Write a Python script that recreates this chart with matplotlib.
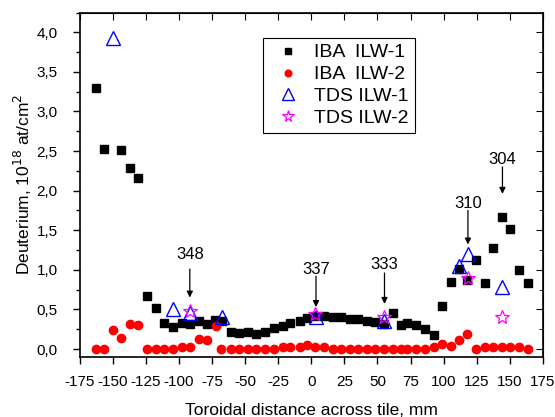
import matplotlib
matplotlib.use("Agg")
import matplotlib.pyplot as plt
from matplotlib.ticker import FuncFormatter, MultipleLocator

plt.rcParams['font.family'] = ['Liberation Sans', 'DejaVu Sans']
plt.rcParams['axes.unicode_minus'] = False

iba1_x = [-163.1, -157, -144.2, -137.1, -131, -124, -117.7, -111.1, -104.8, -98, -91.9, -84.8,
          -78.8, -72.5, -67.2, -60.9, -54.5, -48, -41.7, -34.8, -28.6, -21.7, -15.9, -8.9, -3.0,
          3, 9.3, 16.4, 22.4, 29, 35.3, 42.2, 48.5, 55.3, 61.4, 67.9, 72.4, 79.5, 85.6, 92.4,
          98.5, 105.5, 111.6, 117.9, 124.5, 131.3, 137.4, 144.5, 150.2, 157.3, 163.6]
iba1_y = [3.30, 2.53, 2.51, 2.29, 2.16, 0.67, 0.52, 0.33, 0.28, 0.33, 0.32, 0.35,
          0.32, 0.37, 0.35, 0.22, 0.20, 0.22, 0.19, 0.22, 0.26, 0.29, 0.33, 0.36, 0.39,
          0.42, 0.42, 0.40, 0.40, 0.38, 0.38, 0.35, 0.34, 0.32, 0.46, 0.30, 0.33, 0.30, 0.25, 0.18,
          0.54, 0.85, 1.01, 0.87, 1.13, 0.83, 1.28, 1.67, 1.52, 1.00, 0.84]

iba2_x = [-163.1, -157, -150, -143.9, -137.1, -130.8, -124, -117.7, -111.1, -104.8, -98, -91.9,
          -84.8, -78.8, -72.2, -68, -60.9, -54.5, -48, -41.7, -34.8, -28.6, -21.7, -15.9, -8.9, -3.0,
          3, 9.3, 16.4, 22.4, 29, 35.3, 42.2, 48.5, 55.3, 61.4, 67.9, 72.4, 79.5, 85.6, 92.4,
          98.5, 105.5, 111.6, 117.9, 124.5, 131.3, 137.4, 144.5, 150.2, 157.3, 163.6]
iba2_y = [0.0, 0.0, 0.24, 0.14, 0.32, 0.30, 0.0, 0.0, 0.0, 0.0, 0.03, 0.03,
          0.13, 0.12, 0.29, 0.0, 0.0, 0.0, 0.0, 0.0, 0.0, 0.0, 0.03, 0.02, 0.03, 0.05,
          0.02, 0.02, 0.0, 0.0, 0.0, 0.0, 0.0, 0.0, 0.0, 0.0, 0.0, 0.0, 0.0, 0.0, 0.03,
          0.06, 0.04, 0.11, 0.19, 0.0, 0.02, 0.02, 0.02, 0.02, 0.03, 0.0]

tds1_x = [-149.8, -104.8, -91.9, -67.7, 3.8, 55.3, 111.6, 118.4, 144.5]
tds1_y = [3.93, 0.51, 0.46, 0.40, 0.41, 0.36, 1.05, 1.20, 0.78]

tds2_x = [-91.9, 3, 55.3, 118.4, 144.5]
tds2_y = [0.48, 0.44, 0.40, 0.90, 0.41]

ann_labels = ['348', '337', '333', '310', '304']
ann_x = [-91.9, 3.5, 55.3, 118.4, 144.5]
ann_tip = [0.65, 0.53, 0.57, 1.32, 1.96]
ann_tail = [1.01, 0.92, 0.96, 1.75, 2.30]
ann_text_y = [1.20, 1.01, 1.07, 1.84, 2.39]

xticks = list(range(-175, 176, 25))

fig = plt.figure(figsize=(5.55, 4.17), dpi=100)
ax = fig.add_axes([0.144, 0.144, 0.834, 0.826])

ax.plot(iba1_x, iba1_y, 's', color='black', ms=6, ls='none', label='IBA  ILW-1')
ax.plot(iba2_x, iba2_y, 'o', color='red', ms=6, ls='none', label='IBA  ILW-2')
ax.plot(tds1_x, tds1_y, '^', mfc='none', mec='blue', mew=1.0, ms=10, ls='none', label='TDS ILW-1')
ax.plot(tds2_x, tds2_y, '*', mfc='none', mec='magenta', mew=0.9, ms=10.5, ls='none', label='TDS ILW-2')

for lab, x, tip, tail, ty in zip(ann_labels, ann_x, ann_tip, ann_tail, ann_text_y):
    ax.annotate('', xy=(x, tip), xytext=(x, tail),
                arrowprops=dict(arrowstyle='-|>', color='black', lw=0.9,
                                mutation_scale=9, shrinkA=0, shrinkB=0))
    ax.text(x, ty, lab, ha='center', va='center', fontsize=12)

ax.set_xlim(-175, 175)
ax.set_ylim(-0.1, 4.25)
ax.set_xticks(xticks)
ax.yaxis.set_major_locator(MultipleLocator(0.5))
ax.yaxis.set_minor_locator(MultipleLocator(0.25))
ax.yaxis.set_major_formatter(FuncFormatter(lambda v, p: f"{v:.1f}".replace('.', ',')))
ax.tick_params(axis='both', which='both', direction='out', labelsize=11, width=1.0)
ax.tick_params(axis='both', which='major', length=5)
ax.tick_params(axis='both', which='minor', length=3)
ax.tick_params(axis='x', pad=8)
ax.tick_params(axis='y', pad=11)

sec_x = ax.secondary_xaxis('top')
sec_x.set_xticks(xticks)
sec_x.tick_params(direction='in', length=5, labeltop=False)
sec_y = ax.secondary_yaxis('right')
sec_y.yaxis.set_major_locator(MultipleLocator(0.5))
sec_y.yaxis.set_minor_locator(MultipleLocator(0.25))
sec_y.tick_params(which='major', direction='in', length=5, labelright=False)
sec_y.tick_params(which='minor', direction='in', length=3, labelright=False)

for s in ax.spines.values():
    s.set_linewidth(1.2)

ax.set_xlabel('Toroidal distance across tile, mm', fontsize=12.5, labelpad=10)
ax.set_ylabel('Deuterium, 10$^{18}$ at/cm$^{2}$', fontsize=12.5, labelpad=2)

leg = ax.legend(loc='upper left', bbox_to_anchor=(0.395, 0.926), fontsize=14,
                frameon=True, fancybox=False, edgecolor='black', framealpha=1,
                borderpad=0.3, labelspacing=0.22, handlelength=2.0, handletextpad=0.35,
                borderaxespad=0)
leg.get_frame().set_linewidth(0.8)
for h in leg.legend_handles:
    h.set_markersize(h.get_markersize() * 0.8)

fig.savefig('out.png', dpi=100)
